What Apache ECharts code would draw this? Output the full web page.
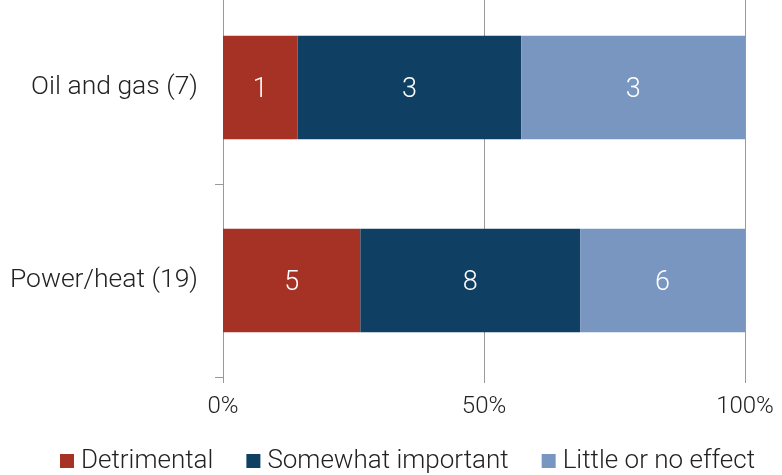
<!DOCTYPE html>
<html>
<head>
<meta charset="utf-8">
<script src="https://cdn.jsdelivr.net/npm/echarts@6/dist/echarts.min.js"></script>
<style>
  html, body { margin: 0; padding: 0; background: #fff; overflow: hidden; }
  /* the plot area starts a little above the visible page, so the chart box is shifted up */
  #chart { width: 782px; height: 495px; margin-top: -20px; }
</style>
</head>
<body>
<div id="chart"></div>
<script>
// Sectors and number of responses per rating
const categories = ['Oil and gas (7)', 'Power/heat (19)'];
const seriesNames = ['Detrimental', 'Somewhat important', 'Little or no effect'];
const detrimental = [1, 5];
const somewhatImportant = [3, 8];
const littleOrNoEffect = [3, 6];
const xTicks = [0, 50, 100];

const colors = ['#A53224', '#0F3F63', '#7896BF'];
const counts = [detrimental, somewhatImportant, littleOrNoEffect];
const totals = categories.map((_, i) => counts.reduce((s, arr) => s + arr[i], 0));

const FONT = 'Roboto, "Noto Sans", sans-serif';
const TEXT = '#222';

const chart = echarts.init(document.getElementById('chart'));
chart.setOption({
  animation: false,
  color: colors,
  grid: { left: 223, right: 37, top: 11, bottom: 98, containLabel: false },
  legend: {
    bottom: -4,
    left: 55,
    itemWidth: 14,
    itemHeight: 14,
    itemGap: 33,
    icon: 'rect',
    textStyle: { fontFamily: FONT, fontSize: 26, fontWeight: 300, color: TEXT, padding: [0, 0, 0, 2] },
    data: seriesNames
  },
  xAxis: {
    type: 'value',
    min: 0,
    max: 100,
    interval: 50,
    axisLine: { show: false },
    axisTick: { show: true, length: 6, lineStyle: { color: '#999' } },
    splitLine: { show: true, lineStyle: { color: '#999', width: 1 } },
    axisLabel: {
      formatter: v => xTicks.includes(v) ? v + '%' : '',
      fontFamily: FONT, fontSize: 24, fontWeight: 300, color: TEXT, margin: 18
    }
  },
  yAxis: {
    type: 'category',
    inverse: true,
    data: categories,
    axisLine: { show: true, lineStyle: { color: '#999' } },
    axisTick: { show: true, length: 8, lineStyle: { color: '#999' } },
    axisLabel: { fontFamily: FONT, fontSize: 26.5, fontWeight: 300, color: TEXT, margin: 25, padding: [6, 0, 0, 0] }
  },
  series: seriesNames.map((name, k) => ({
    name,
    type: 'bar',
    stack: 'total',
    barWidth: '53.5%',
    data: counts[k].map((c, i) => ({ value: c / totals[i] * 100, count: c })),
    label: {
      show: true,
      position: 'inside',
      offset: [0, 3],
      formatter: p => String(p.data.count),
      color: '#fff',
      fontFamily: FONT,
      fontSize: 27,
      fontWeight: 300
    },
    itemStyle: { borderWidth: 0 }
  }))
});
</script>
</body>
</html>
